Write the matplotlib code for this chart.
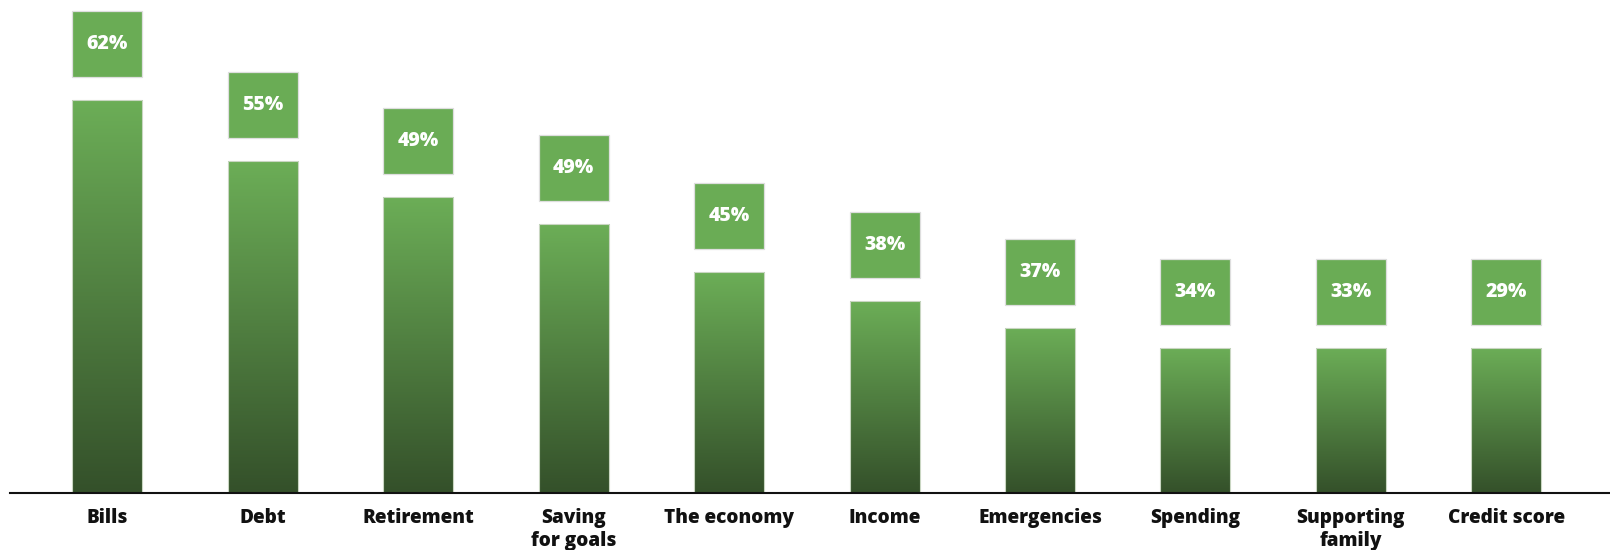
import numpy as np
import matplotlib.pyplot as plt
from matplotlib.colors import LinearSegmentedColormap

categories = ['Bills', 'Debt', 'Retirement', 'Saving\nfor goals', 'The economy',
              'Income', 'Emergencies', 'Spending', 'Supporting\nfamily', 'Credit score']
value_labels = ['62%', '55%', '49%', '49%', '45%', '38%', '37%', '34%', '33%', '29%']
# bar heights as drawn in the picture (not proportional to the labels)
bar_heights = [62, 52.4, 46.7, 42.5, 34.8, 30.3, 26.1, 22.9, 22.9, 22.9]

plt.rcParams['font.family'] = ['Open Sans', 'DejaVu Sans']

px = 6.339  # pixels per unit
gap = 23 / px
box_h = 66 / px
bar_w = 70 / 155.4

fig = plt.figure(figsize=(16.1, 5.5), dpi=100)
ax = fig.add_axes([10 / 1610, 57 / 550, 1600 / 1610, 493 / 550])

x = np.arange(len(categories))
cmap = LinearSegmentedColormap.from_list('g', ['#34502a', '#6cae57'])
grad = np.linspace(1, 0, 256).reshape(-1, 1)

bars = ax.bar(x, bar_heights, width=bar_w, facecolor='none',
              edgecolor='#c9d6c2', linewidth=0.8, zorder=3)
for b, h in zip(bars, bar_heights):
    im = ax.imshow(grad, cmap=cmap, aspect='auto', zorder=2,
                   extent=[b.get_x(), b.get_x() + b.get_width(), 0, h])
    im.set_clip_path(b)

tops = [h + gap for h in bar_heights]
ax.bar(x, box_h, bottom=tops, width=bar_w, color='#6aac55',
       edgecolor='#dedede', linewidth=0.9, zorder=3)
for xi, t, lab in zip(x, tops, value_labels):
    ax.text(xi, t + box_h / 2, lab, ha='center', va='center', color='white',
            fontsize=14, fontweight='heavy', zorder=4)

ax.set_xlim(-0.627, 9.667)
ax.set_ylim(0, 493 / px)
ax.set_xticks(x)
ax.set_xticklabels(categories, fontsize=13.7, fontweight='heavy', color='#111111',
                   linespacing=1.18)
ax.tick_params(axis='x', length=0, pad=11)
ax.set_yticks([])
for s in ['top', 'left', 'right']:
    ax.spines[s].set_visible(False)
ax.spines['bottom'].set_linewidth(1.5)
ax.spines['bottom'].set_color('#111111')
ax.spines['bottom'].set_zorder(5)

fig.savefig('out.png', dpi=100)
